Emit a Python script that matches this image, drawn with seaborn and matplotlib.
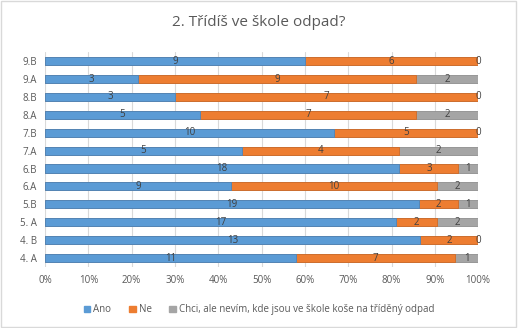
import matplotlib
matplotlib.use("Agg")
import matplotlib.pyplot as plt
import seaborn as sns
import pandas as pd
import numpy as np
from matplotlib.patches import Patch, Rectangle

classes = ["9.B", "9.A", "8.B", "8.A", "7.B", "7.A", "6.B", "6.A", "5.B", "5. A", "4. B", "4. A"]
ano = [9, 3, 3, 5, 10, 5, 18, 9, 19, 17, 13, 11]
ne = [6, 9, 7, 7, 5, 4, 3, 10, 2, 2, 2, 7]
nevim = [0, 2, 0, 2, 0, 2, 1, 2, 1, 2, 0, 1]
series_names = ["Ano", "Ne", "Chci, ale nevím, kde jsou ve škole koše na tříděný odpad"]
colors = ["#5B9BD5", "#ED7D31", "#A5A5A5"]
edge_colors = ["#4A86BE", "#D06A26", "#8E8E8E"]

sns.set_theme(style="white")
plt.rcParams["font.family"] = ["Open Sans", "DejaVu Sans"]

df = pd.DataFrame({"cls": classes, "Ano": ano, "Ne": ne, "Nevim": nevim})
tot = df[["Ano", "Ne", "Nevim"]].sum(axis=1)
df["p1"] = df["Ano"] / tot
df["p2"] = (df["Ano"] + df["Ne"]) / tot
df["p3"] = (df["Ano"] + df["Ne"] + df["Nevim"]) / tot

fig = plt.figure(figsize=(5.18, 3.28), dpi=100)
ax = fig.add_axes([0.087, 0.186, 0.836, 0.655])

for col, c, ec in zip(["p3", "p2", "p1"], colors[::-1], edge_colors[::-1]):
    sns.barplot(data=df, x=col, y="cls", order=classes, orient="h",
                color=c, saturation=1, width=0.45, edgecolor=ec, linewidth=0.6, ax=ax, zorder=3)

# segment labels
for i, row in df.iterrows():
    starts = [0, row["p1"], row["p2"]]
    ends = [row["p1"], row["p2"], row["p3"]]
    vals = [row["Ano"], row["Ne"], row["Nevim"]]
    for s, e, v in zip(starts, ends, vals):
        ax.text((s + e) / 2, i, str(v), ha="center", va="center",
                fontsize=7, color="#404040", zorder=5)

ax.set_xlim(0, 1)
ax.set_xticks(np.arange(0, 1.01, 0.1))
ax.set_xticklabels([f"{int(round(t*100))}%" for t in np.arange(0, 1.01, 0.1)])
ax.xaxis.grid(True, color="#D9D9D9", linewidth=0.8, zorder=0)
ax.set_axisbelow(True)
ax.set_xlabel("")
ax.set_ylabel("")
for s in ax.spines.values():
    s.set_visible(False)
ax.tick_params(axis="both", length=0, labelsize=7, colors="#595959", pad=6)

fig.suptitle("2. Třídíš ve škole odpad?", y=0.955, fontsize=11, color="#595959")

handles = [Patch(facecolor=c, edgecolor=c) for c in colors]
fig.legend(handles, series_names, loc="center", bbox_to_anchor=(0.5, 0.055), ncol=3,
           frameon=False, fontsize=7, labelcolor="#595959", handlelength=0.7,
           handleheight=0.7, handletextpad=0.3, columnspacing=1.8)

fig.patches.append(Rectangle((0.002, 0.003), 0.995, 0.993, transform=fig.transFigure,
                             fill=False, edgecolor="#D9D9D9", linewidth=1))

fig.savefig("out.png", dpi=100)
